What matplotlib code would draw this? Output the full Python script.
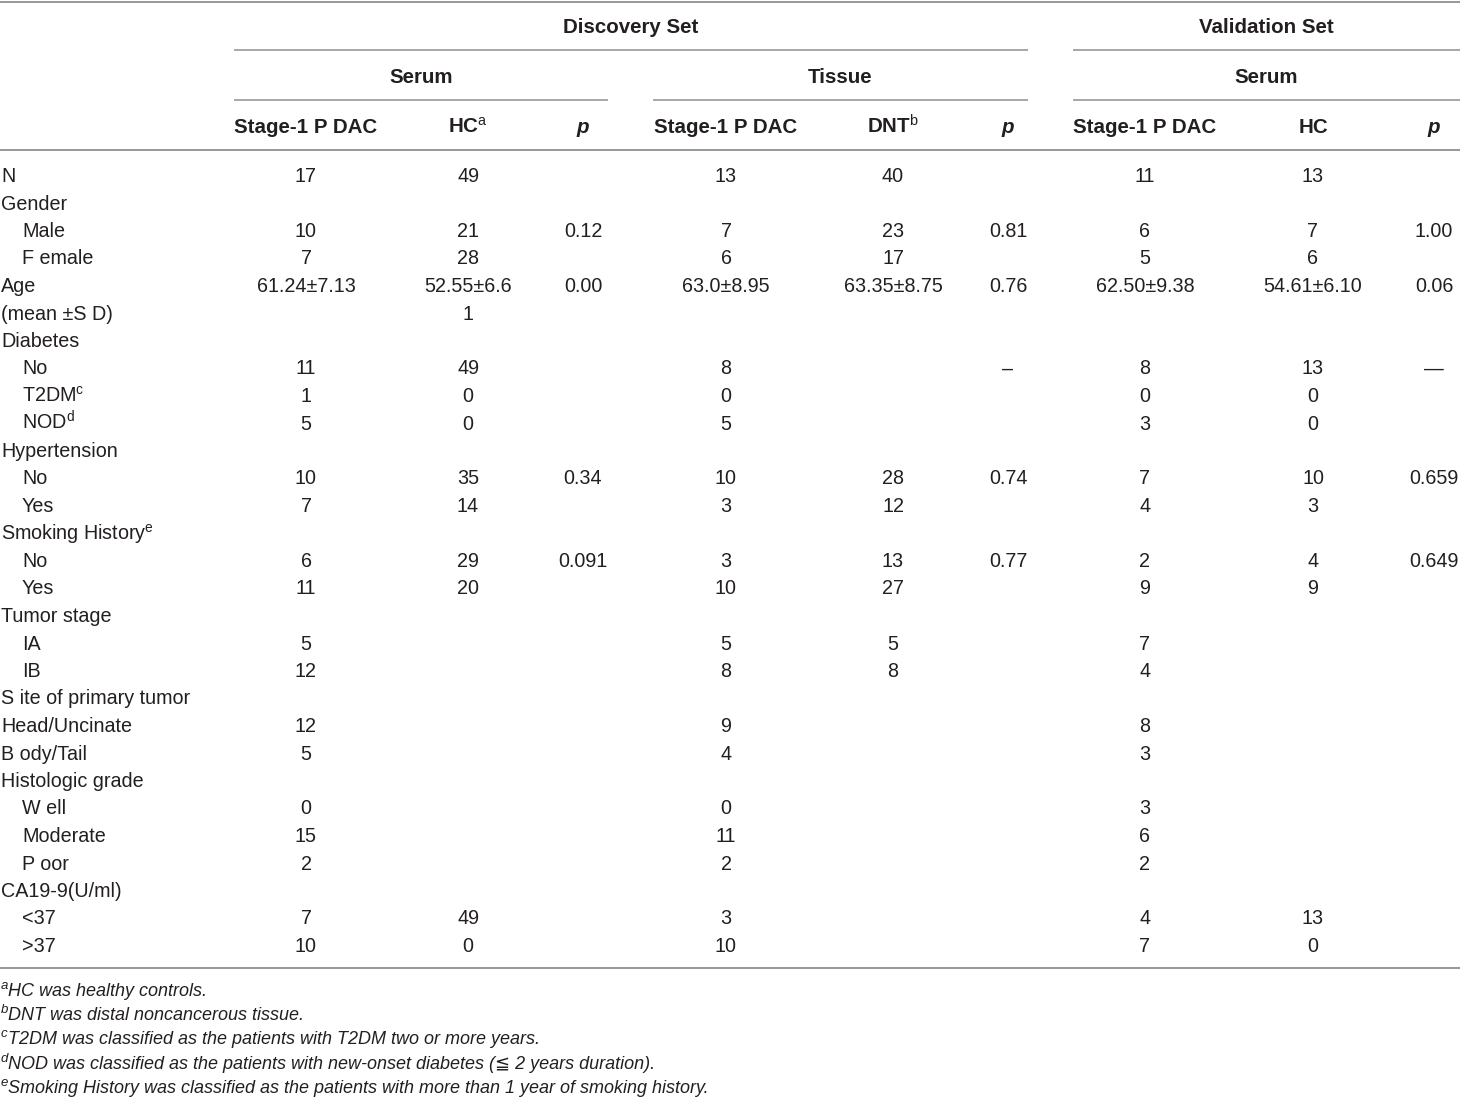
import matplotlib
matplotlib.use("Agg")
import matplotlib.pyplot as plt

plt.rcParams["font.family"] = ["Liberation Sans", "DejaVu Sans"]
plt.rcParams["mathtext.fontset"] = "custom"
plt.rcParams["mathtext.rm"] = "Liberation Sans"
plt.rcParams["mathtext.it"] = "Liberation Sans:italic"
plt.rcParams["mathtext.bf"] = "Liberation Sans:bold"

# ---- table content ----
row_labels = [
    "N", "Gender", "Male", "F emale", "Age", "(mean \u00b1S D)", "Diabetes",
    "No", r"T2DM$^{\mathrm{c}}$", r"NOD$^{\mathrm{d}}$", "Hypertension", "No", "Yes",
    r"Smoking History$^{\mathrm{e}}$", "No", "Yes", "Tumor stage", "IA", "IB",
    "S ite of primary tumor", "Head/Uncinate", "B ody/Tail", "Histologic grade",
    "W ell", "Moderate", "P oor", "CA19-9(U/ml)", "<37", ">37",
]
row_indent = [0, 0, 1, 1, 0, 0, 0, 1, 1, 1, 0, 1, 1, 0, 1, 1, 0, 1, 1,
              0, 0, 0, 0, 1, 1, 1, 0, 1, 1]

disc_serum_pdac = ["17", "", "10", "7", "61.24\u00b17.13", "", "", "11", "1", "5", "", "10", "7",
                   "", "6", "11", "", "5", "12", "", "12", "5", "", "0", "15", "2", "", "7", "10"]
disc_serum_hc = ["49", "", "21", "28", "52.55\u00b16.6", "1", "", "49", "0", "0", "", "35", "14",
                 "", "29", "20", "", "", "", "", "", "", "", "", "", "", "", "49", "0"]
disc_serum_p = ["", "", "0.12", "", "0.00", "", "", "", "", "", "", "0.34", "",
                "", "0.091", "", "", "", "", "", "", "", "", "", "", "", "", "", ""]
disc_tissue_pdac = ["13", "", "7", "6", "63.0\u00b18.95", "", "", "8", "0", "5", "", "10", "3",
                    "", "3", "10", "", "5", "8", "", "9", "4", "", "0", "11", "2", "", "3", "10"]
disc_tissue_dnt = ["40", "", "23", "17", "63.35\u00b18.75", "", "", "", "", "", "", "28", "12",
                   "", "13", "27", "", "5", "8", "", "", "", "", "", "", "", "", "", ""]
disc_tissue_p = ["", "", "0.81", "", "0.76", "", "", "\u2013", "", "", "", "0.74", "",
                 "", "0.77", "", "", "", "", "", "", "", "", "", "", "", "", "", ""]
val_serum_pdac = ["11", "", "6", "5", "62.50\u00b19.38", "", "", "8", "0", "3", "", "7", "4",
                  "", "2", "9", "", "7", "4", "", "8", "3", "", "3", "6", "2", "", "4", "7"]
val_serum_hc = ["13", "", "7", "6", "54.61\u00b16.10", "", "", "13", "0", "0", "", "10", "3",
                "", "4", "9", "", "", "", "", "", "", "", "", "", "", "", "13", "0"]
val_serum_p = ["", "", "1.00", "", "0.06", "", "", "\u2014", "", "", "", "0.659", "",
               "", "0.649", "", "", "", "", "", "", "", "", "", "", "", "", "", ""]

columns = [disc_serum_pdac, disc_serum_hc, disc_serum_p,
           disc_tissue_pdac, disc_tissue_dnt, disc_tissue_p,
           val_serum_pdac, val_serum_hc, val_serum_p]
col_headers = ["Stage-1 P DAC", r"HC$^{\mathrm{a}}$", "p",
               "Stage-1 P DAC", r"DNT$^{\mathrm{b}}$", "p",
               "Stage-1 P DAC", "HC", "p"]

footnote_marks = ["a", "b", "c", "d", "e"]
footnotes = [
    "HC was healthy controls.",
    "DNT was distal noncancerous tissue.",
    "T2DM was classified as the patients with T2DM two or more years.",
    "NOD was classified as the patients with new-onset diabetes (\u2266 2 years duration).",
    "Smoking History was classified as the patients with more than 1 year of smoking history.",
]

# ---- layout (pixel space, baselines) ----
W, H = 1460, 1103
col_x = [306, 468, 583, 726, 893, 1008, 1145, 1313, 1434]
row_base0, row_dy = 182, 27.5
txt = "#231f20"
rule = "#8f8f8f"
fs = 14.2
fs_head = 14.8

fig = plt.figure(figsize=(W / 100, H / 100), dpi=100)
ax = fig.add_axes([0, 0, 1, 1])
ax.set_xlim(0, W)
ax.set_ylim(H, 0)
ax.axis("off")

# rules
ax.hlines([1.5, 150, 968], 0, W, color=rule, lw=1.3)
ax.hlines(50, 234, 1028, color=rule, lw=1.1)
ax.hlines(50, 1073, W, color=rule, lw=1.1)
for x0, x1 in [(234, 608), (653, 1028), (1073, W)]:
    ax.hlines(100, x0, x1, color=rule, lw=1.1)

# group headers
bold = dict(fontsize=fs_head, fontweight="bold", color=txt, ha="center", va="baseline")
ax.text(631, 33, "Discovery Set", **bold)
ax.text(1266, 33, "Validation Set", **bold)
ax.text(421, 83, "Serum", **bold)
ax.text(840, 83, "Tissue", **bold)
ax.text(1266, 83, "Serum", **bold)
for x, h in zip(col_x, col_headers):
    if h == "p":
        ax.text(x, 133, "p", fontsize=fs_head, fontweight="bold", style="italic",
                color=txt, ha="center", va="baseline")
    else:
        ax.text(x, 133, h, **bold)

# body
for i, (lab, ind) in enumerate(zip(row_labels, row_indent)):
    y = row_base0 + i * row_dy
    ax.text(1 + 21 * ind, y, lab, fontsize=fs, color=txt, ha="left", va="baseline")
    for x, col in zip(col_x, columns):
        if col[i]:
            ax.text(x, y, col[i], fontsize=fs, color=txt, ha="center", va="baseline")

# footnotes
for j, (mark, note) in enumerate(zip(footnote_marks, footnotes)):
    yb = 996 + j * 24.2
    ax.text(1, yb - 7, mark, fontsize=9.5, style="italic", color=txt,
            ha="left", va="baseline")
    ax.text(8, yb, note, fontsize=13.0, style="italic", color=txt,
            ha="left", va="baseline")

fig.savefig("out.png", dpi=100)
